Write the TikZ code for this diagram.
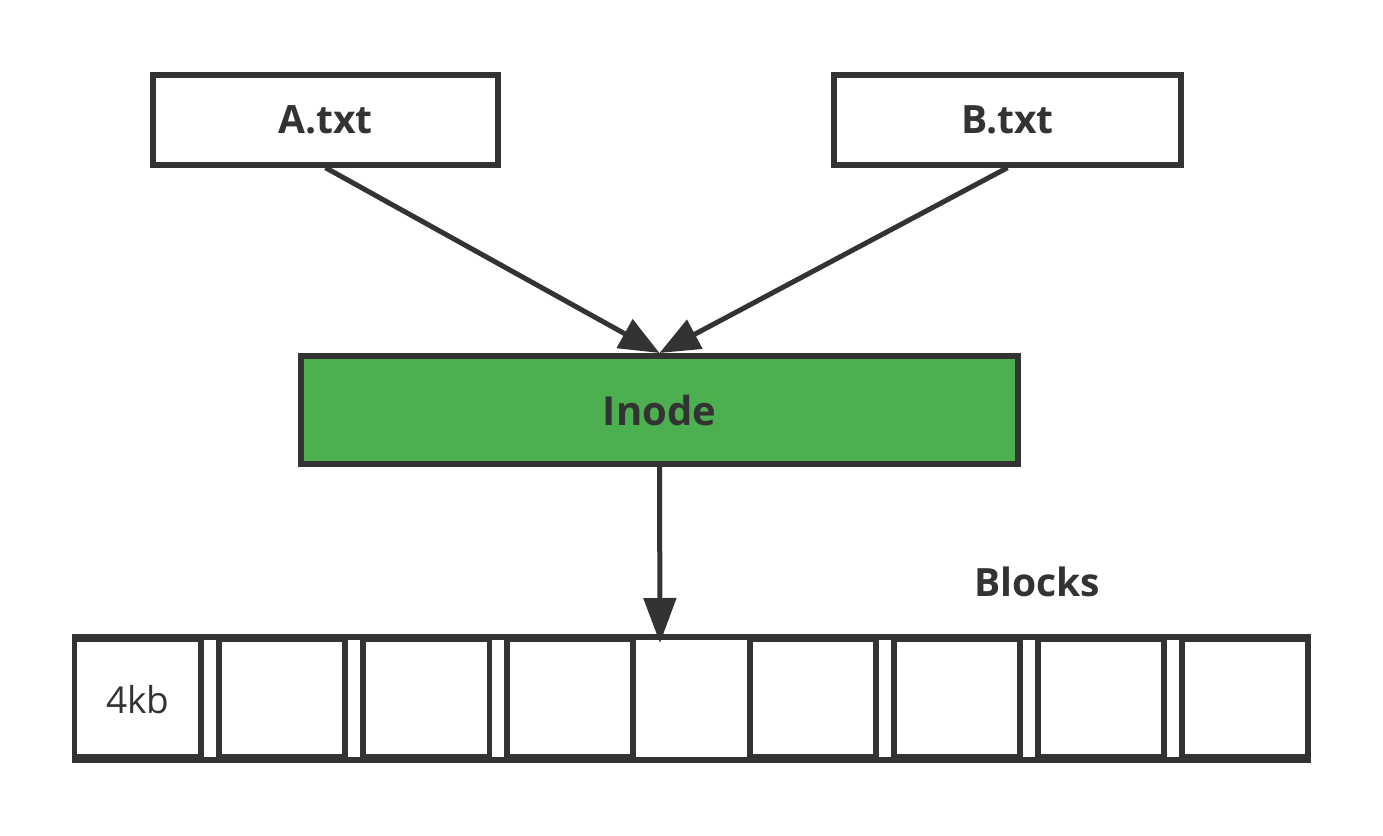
\documentclass[tikz,border=0pt]{standalone}
\usepackage{fontspec}
\setmainfont{Open Sans}
\usetikzlibrary{arrows.meta}
\definecolor{ink}{HTML}{333333}
\definecolor{inodegreen}{HTML}{4CAF50}
\tikzset{
  filebox/.style={draw=ink, line width=6pt, fill=white, minimum height=90pt, inner sep=0pt,
    text=ink, font=\fontsize{39}{45}\selectfont\bfseries},
  inodebox/.style={draw=ink, line width=6pt, fill=inodegreen, minimum width=717pt, minimum height=108pt,
    inner sep=0pt, text=ink, font=\fontsize{40}{46}\selectfont\bfseries},
  blockbox/.style={draw=ink, line width=5.7pt, fill=white, minimum width=126.5pt, minimum height=117pt,
    inner sep=0pt, text=ink, font=\fontsize{37}{42}\selectfont},
  conn/.style={draw=ink, line width=5pt, -{Triangle[length=40pt,width=32pt]}},
  vconn/.style={draw=ink, line width=5pt, -{Triangle[length=45pt,width=32pt]}},
  bar/.style={fill=ink},
  gapfill/.style={fill=white}
}
\begin{document}
\begin{tikzpicture}[x=1pt,y=-1pt]
\useasboundingbox[fill=white] (0,0) rectangle (1383,835);
% boxes
\node[filebox, minimum width=345pt] (A) at (325.5,119.7) {A.txt};
\node[filebox, minimum width=347pt] (B) at (1007.5,119.7) {B.txt};
\node[inodebox] (I) at (659.5,410) {Inode};
% blocks frame bars
\fill[bar] (71.7,634) rectangle (1310.7,642.7);
\fill[bar] (71.7,753.3) rectangle (1310.7,762.7);
% white gaps between blocks
\foreach \a/\b in {204/215.7,348.3/360,492.3/504.3,879.3/891,1022.7/1035,1166.7/1179.3}
  \fill[gapfill] (\a,640) rectangle (\b,756.7);
% blocks
\node[blockbox] (b1) at (137.75,698) {\raisebox{-4pt}[22pt][0pt]{4kb}};
\node[blockbox] (b2) at (282,698) {};
\node[blockbox] (b3) at (426.25,698) {};
\node[blockbox, minimum width=126pt] (b4) at (570,698) {};
\node[fill=white, minimum width=110.7pt, minimum height=116.7pt, inner sep=0pt, outer sep=0pt] (b5) at (691.35,698.35) {};
\node[blockbox] (b6) at (813,698) {};
\node[blockbox] (b7) at (957,698) {};
\node[blockbox] (b8) at (1101,698) {};
\node[blockbox] (b9) at (1245,698) {};
% label
\node[text=ink, font=\fontsize{39}{45}\selectfont\bfseries] (blk) at (1037,582) {Blocks};
% connectors
\coordinate (tip) at (660,643);
\draw[conn] (A.south) -- (I.north);
\draw[conn] (B.south) -- (I.north);
\draw[vconn] (I.south) -- (tip);
\end{tikzpicture}
\end{document}
